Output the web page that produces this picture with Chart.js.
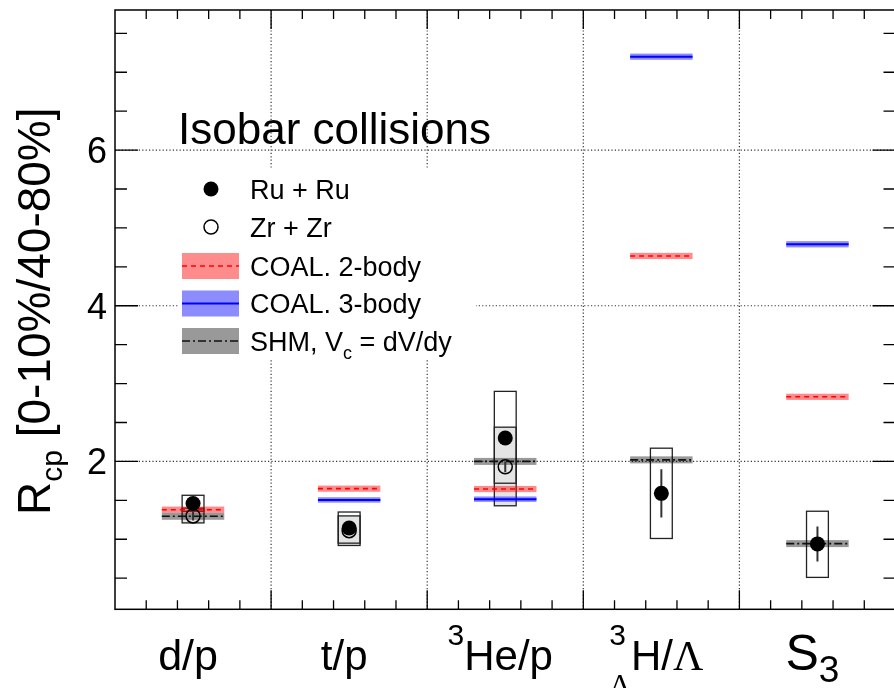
<!DOCTYPE html>
<html>
<head>
<meta charset="utf-8">
<script src="https://cdn.jsdelivr.net/npm/chart.js@4.4.1/dist/chart.umd.min.js"></script>
<style>
  html, body { margin: 0; padding: 0; background: #fff; overflow: hidden; }
  #wrap { width: 904px; height: 688px; }
</style>
</head>
<body>
<div id="wrap"><canvas id="rcp" width="904" height="688"></canvas></div>
<script>
// Rcp of light (hyper)nuclei ratios, Ru+Ru and Zr+Zr, with model bands
const categories = ['d/p', 't/p', '3He/p', '3LH/L', 'S3'];

const ruValue   = [1.46, 1.145, 2.30, 1.59, 0.94];
const ruStat    = [0.03, 0.04, 0.07, 0.31, 0.225];
const ruSysLow  = [1.36, 0.95, 1.72, 1.01, 0.51];
const ruSysHigh = [1.565, 1.35, 2.90, 2.17, 1.36];

const zrValue   = [1.30, 1.11, 1.93, null, null];
const zrStat    = [0.06, 0.04, 0.07, null, null];
const zrSysLow  = [1.21, 0.92, 1.43, null, null];
const zrSysHigh = [1.40, 1.30, 2.44, null, null];

const coal2    = [1.38, 1.65, 1.645, 4.64, 2.83];
const coal2Err = [0.04, 0.04, 0.04, 0.04, 0.04];
const coal3    = [null, 1.505, 1.515, 7.20, 4.79];
const coal3Err = [null, 0.035, 0.035, 0.04, 0.04];
const shm      = [1.295, null, 2.0, 2.02, 0.944];
const shmErr   = [0.045, null, 0.045, 0.045, 0.045];

const yTickLabels = [2, 4, 6];

const SANS = '"Liberation Sans", Arial, Helvetica, sans-serif';
const SERIF = '"Liberation Serif", "Times New Roman", serif';

const catX = categories.map((c, i) => i + 0.5);
const MODEL_HALF = 0.2;
const BOX_HALF = 0.07;

const models = [
  { name: 'COAL. 2-body', values: coal2, err: coal2Err, band: 'rgba(255,0,0,0.45)', line: '#ff0000', dash: [5, 4], width: 1.6 },
  { name: 'COAL. 3-body', values: coal3, err: coal3Err, band: 'rgba(0,0,255,0.45)', line: '#0000ff', dash: [], width: 2 },
  { name: 'SHM', values: shm, err: shmErr, band: 'rgba(0,0,0,0.4)', line: '#111', dash: [8, 3, 2, 3], width: 1.6 }
];

function points(values) {
  return values.map((v, i) => (v == null ? null : { x: catX[i], y: v })).filter(Boolean);
}

// two points per category, separated by a null so the line breaks
function segments(values) {
  const out = [];
  values.forEach((v, i) => {
    if (v == null) return;
    out.push({ x: catX[i] - MODEL_HALF, y: v }, { x: catX[i] + MODEL_HALF, y: v }, { x: catX[i] + 0.5, y: null });
  });
  return out;
}

// rich text: parts with size / vertical shift / family; stack keeps x for the next part
function layoutRich(ctx, parts) {
  let x = 0, pending = 0;
  const placed = [];
  parts.forEach(p => {
    ctx.font = `${p.size}px ${p.family || SANS}`;
    const w = ctx.measureText(p.t).width;
    placed.push(Object.assign({}, p, { x }));
    if (p.stack) pending = Math.max(pending, w);
    else { x += Math.max(w, pending); pending = 0; }
  });
  return { placed, width: x };
}

function drawRich(ctx, parts, x, y, align) {
  const lay = layoutRich(ctx, parts);
  const x0 = align === 'center' ? x - lay.width / 2 : x;
  ctx.textBaseline = 'alphabetic';
  ctx.textAlign = 'left';
  lay.placed.forEach(p => {
    ctx.font = `${p.size}px ${p.family || SANS}`;
    ctx.fillText(p.t, x0 + p.x, y + (p.dy || 0));
  });
}

const labelMarkup = {
  'd/p': [{ t: 'd/p', size: 43 }],
  't/p': [{ t: 't/p', size: 42 }],
  '3He/p': [{ t: '3', size: 30, dy: -25 }, { t: 'He/p', size: 42 }],
  '3LH/L': [{ t: '3', size: 30, dy: -25, stack: true }, { t: 'Λ', size: 30, dy: 24, family: SERIF },
            { t: 'H/', size: 42 }, { t: 'Λ', size: 42, family: SERIF }],
  'S3': [{ t: 'S', size: 50 }, { t: '3', size: 37, dy: 12 }]
};

const backdrop = {
  id: 'backdrop',
  beforeDatasetsDraw(chart) {
    const { ctx, chartArea: a, scales: { x: xs, y: ys } } = chart;
    ctx.save();

    // dotted grid
    ctx.strokeStyle = '#333';
    ctx.lineWidth = 1.2;
    ctx.setLineDash([1.2, 2.2]);
    ctx.beginPath();
    for (let k = 1; k < 5; k++) {
      const x = xs.getPixelForValue(k);
      ctx.moveTo(x, a.top); ctx.lineTo(x, a.bottom);
    }
    yTickLabels.forEach(v => {
      const y = ys.getPixelForValue(v);
      ctx.moveTo(a.left, y); ctx.lineTo(a.right, y);
    });
    ctx.stroke();
    ctx.setLineDash([]);

    // systematic boxes: Zr filled, Ru open
    const box = (i, lo, hi, fill) => {
      const x1 = xs.getPixelForValue(catX[i] - BOX_HALF);
      const x2 = xs.getPixelForValue(catX[i] + BOX_HALF);
      const y1 = ys.getPixelForValue(hi[i]);
      const y2 = ys.getPixelForValue(lo[i]);
      if (fill) { ctx.fillStyle = fill; ctx.fillRect(x1, y1, x2 - x1, y2 - y1); }
      ctx.strokeStyle = '#222';
      ctx.lineWidth = 1.3;
      ctx.strokeRect(x1, y1, x2 - x1, y2 - y1);
    };
    zrValue.forEach((v, i) => { if (v != null) box(i, zrSysLow, zrSysHigh, '#e4e4e4'); });
    ruValue.forEach((v, i) => { if (v != null) box(i, ruSysLow, ruSysHigh, null); });

    // model uncertainty bands
    models.forEach(m => {
      ctx.fillStyle = m.band;
      m.values.forEach((v, i) => {
        if (v == null) return;
        const x1 = xs.getPixelForValue(catX[i] - MODEL_HALF);
        const x2 = xs.getPixelForValue(catX[i] + MODEL_HALF);
        const y1 = ys.getPixelForValue(v + m.err[i]);
        const y2 = ys.getPixelForValue(v - m.err[i]);
        ctx.fillRect(x1, y1, x2 - x1, y2 - y1);
      });
    });

    // statistical error bars
    ctx.strokeStyle = '#333';
    ctx.lineWidth = 2;
    ctx.beginPath();
    [[ruValue, ruStat], [zrValue, zrStat]].forEach(([vals, errs]) => {
      vals.forEach((v, i) => {
        if (v == null) return;
        const x = xs.getPixelForValue(catX[i]);
        ctx.moveTo(x, ys.getPixelForValue(v + errs[i]));
        ctx.lineTo(x, ys.getPixelForValue(v - errs[i]));
      });
    });
    ctx.stroke();
    ctx.restore();
  },

  afterDraw(chart) {
    const { ctx, chartArea: a, scales: { x: xs, y: ys } } = chart;
    ctx.save();
    ctx.fillStyle = '#000';
    ctx.strokeStyle = '#000';

    // frame and ticks on all four sides
    ctx.lineWidth = 1.5;
    ctx.strokeRect(a.left, a.top, a.right - a.left, a.bottom - a.top);
    ctx.lineWidth = 1.3;
    ctx.beginPath();
    for (let k = 1; k <= 15; k++) {
      const y = ys.getPixelForValue(k * 0.5);
      const len = k % 4 === 0 ? 23 : 12;
      ctx.moveTo(a.left, y); ctx.lineTo(a.left + len, y);
      ctx.moveTo(a.right, y); ctx.lineTo(a.right - len, y);
    }
    for (let k = 1; k < 25; k++) {
      const x = xs.getPixelForValue(k * 0.2);
      const len = k % 5 === 0 ? 19 : 9;
      ctx.moveTo(x, a.bottom); ctx.lineTo(x, a.bottom - len);
      ctx.moveTo(x, a.top); ctx.lineTo(x, a.top + len);
    }
    ctx.stroke();

    // y tick labels
    ctx.font = `36px ${SANS}`;
    ctx.textAlign = 'right';
    ctx.textBaseline = 'alphabetic';
    yTickLabels.forEach(v => ctx.fillText(String(v), 107, ys.getPixelForValue(v) + 13));

    // category labels
    categories.forEach((c, i) => {
      drawRich(ctx, labelMarkup[c], xs.getPixelForValue(catX[i]) - 5, 670, 'center');
    });

    // y axis title
    ctx.save();
    ctx.translate(50, 515);
    ctx.rotate(-Math.PI / 2);
    drawRich(ctx, [{ t: 'R', size: 46 }, { t: 'cp', size: 30, dy: 12 }, { t: ' [0-10%/40-80%]', size: 46 }], 0, 0, 'left');
    ctx.restore();

    // legend
    ctx.font = `44px ${SANS}`;
    ctx.textAlign = 'left';
    ctx.fillText('Isobar collisions', 178, 144);

    ctx.fillStyle = '#fff';
    ctx.fillRect(178, 168, 298, 192);

    const rowY = [189, 227, 266, 303.5, 341];
    const sx1 = 182, sx2 = 239, mx = 211, tx = 250;

    ctx.fillStyle = '#000';
    ctx.beginPath();
    ctx.arc(mx, rowY[0], 7.5, 0, Math.PI * 2);
    ctx.fill();
    ctx.lineWidth = 1.5;
    ctx.beginPath();
    ctx.arc(mx, rowY[1], 7, 0, Math.PI * 2);
    ctx.stroke();

    models.forEach((m, k) => {
      const y = rowY[k + 2];
      ctx.fillStyle = m.band;
      ctx.fillRect(sx1, y - 13, sx2 - sx1, 26);
      ctx.strokeStyle = m.line;
      ctx.lineWidth = m.width;
      ctx.setLineDash(m.dash);
      ctx.beginPath();
      ctx.moveTo(sx1, y); ctx.lineTo(sx2, y);
      ctx.stroke();
      ctx.setLineDash([]);
    });

    ctx.fillStyle = '#000';
    const rows = [
      [{ t: 'Ru + Ru', size: 27 }],
      [{ t: 'Zr + Zr', size: 27 }],
      [{ t: 'COAL. 2-body', size: 27 }],
      [{ t: 'COAL. 3-body', size: 27 }],
      [{ t: 'SHM, V', size: 27 }, { t: 'c', size: 18, dy: 8 }, { t: ' = dV/dy', size: 27 }]
    ];
    rows.forEach((parts, k) => drawRich(ctx, parts, tx, rowY[k] + 9.5, 'left'));

    ctx.restore();
  }
};

new Chart(document.getElementById('rcp'), {
  type: 'scatter',
  data: {
    datasets: [
      {
        label: 'Ru + Ru',
        data: points(ruValue),
        pointRadius: 7.5,
        pointBackgroundColor: '#000',
        pointBorderColor: '#000',
        pointBorderWidth: 0,
        order: 0
      },
      {
        label: 'Zr + Zr',
        data: points(zrValue),
        pointRadius: 7,
        pointBackgroundColor: 'rgba(0,0,0,0)',
        pointBorderColor: '#000',
        pointBorderWidth: 1.5,
        order: 1
      },
      ...models.map((m, k) => ({
        label: m.name,
        type: 'line',
        data: segments(m.values),
        borderColor: m.line,
        borderWidth: m.width,
        borderDash: m.dash,
        pointRadius: 0,
        spanGaps: false,
        fill: false,
        order: 2 + k
      }))
    ]
  },
  options: {
    responsive: false,
    animation: false,
    events: [],
    layout: { padding: { left: 115, top: 10, right: 6.5, bottom: 78.7 } },
    scales: {
      x: { type: 'linear', min: 0, max: 5, display: false },
      y: { type: 'linear', min: 0.1, max: 7.8, display: false }
    },
    plugins: {
      legend: { display: false },
      tooltip: { enabled: false }
    }
  },
  plugins: [backdrop]
});
</script>
</body>
</html>
